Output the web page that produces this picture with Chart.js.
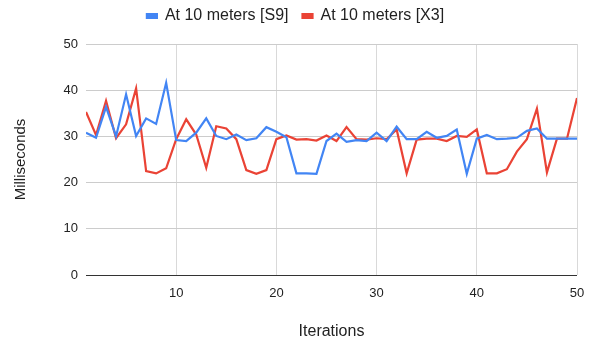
<!DOCTYPE html>
<html>
<head>
<meta charset="utf-8">
<script src="https://cdn.jsdelivr.net/npm/chart.js@4"></script>
<style>
  html, body { margin: 0; padding: 0; background: #fff; }
  #wrap { width: 598px; height: 345px; }
</style>
</head>
<body>
<div id="wrap"><canvas id="myChart" width="598" height="345"></canvas></div>
<script>
const iterations = [1, 2, 3, 4, 5, 6, 7, 8, 9, 10,
    11, 12, 13, 14, 15, 16, 17, 18, 19, 20,
    21, 22, 23, 24, 25, 26, 27, 28, 29, 30,
    31, 32, 33, 34, 35, 36, 37, 38, 39, 40,
    41, 42, 43, 44, 45, 46, 47, 48, 49, 50];

const s9Values = [30.8, 29.7, 36.4, 30.0, 39.1, 30.1, 33.9, 32.7, 41.6, 29.2,
    29.0, 30.8, 33.9, 30.1, 29.4, 30.4, 29.2, 29.6, 32.0, 31.0,
    29.8, 22.0, 22.0, 21.9, 29.0, 30.6, 28.8, 29.2, 29.0, 30.8,
    29.0, 32.1, 29.4, 29.4, 31.0, 29.7, 30.1, 31.5, 21.9, 29.5,
    30.3, 29.4, 29.5, 29.7, 31.2, 31.7, 29.5, 29.5, 29.5, 29.5];

const x3Values = [35.3, 30.3, 37.7, 29.6, 32.6, 40.4, 22.5, 22.0, 23.1, 29.4,
    33.7, 30.4, 23.2, 32.2, 31.7, 29.4, 22.7, 21.9, 22.7, 29.4,
    30.2, 29.3, 29.4, 29.1, 30.2, 29.0, 32.0, 29.4, 29.3, 29.6,
    29.4, 31.5, 22.0, 29.3, 29.5, 29.5, 29.0, 30.1, 29.9, 31.5,
    22.0, 22.0, 22.9, 26.7, 29.4, 36.0, 22.2, 29.5, 29.5, 38.3];

const xTicks = [10, 20, 30, 40, 50];
const yTicks = [0, 10, 20, 30, 40, 50];

const font = "Arial, 'Liberation Sans', sans-serif";
Chart.defaults.font.family = font;
Chart.defaults.color = '#222';

function toPoints(values) {
    return iterations.map((x, i) => ({ x, y: values[i] }));
}

// taller legend box so the plot starts lower; nudge the legend a bit to the right
const legendSpacer = {
    id: 'legendSpacer',
    beforeInit(chart) {
        const legend = chart.legend;
        const origFit = legend.fit;
        legend.fit = function () {
            origFit.call(this);
            this.height += 10;
        };
    },
    afterLayout(chart) {
        chart.legend.left += 7;
        chart.legend.right += 7;
    }
};

const ctx = document.getElementById('myChart').getContext('2d');
window.myChart = new Chart(ctx, {
    type: 'line',
    data: {
        datasets: [
            {
                label: 'At 10 meters [S9]',
                data: toPoints(s9Values),
                borderColor: '#4285F4',
                backgroundColor: '#4285F4',
                borderWidth: 2.2,
                pointRadius: 0,
                tension: 0
            },
            {
                label: 'At 10 meters [X3]',
                data: toPoints(x3Values),
                borderColor: '#EA4335',
                backgroundColor: '#EA4335',
                borderWidth: 2.2,
                pointRadius: 0,
                tension: 0
            }
        ]
    },
    plugins: [legendSpacer],
    options: {
        responsive: false,
        animation: false,
        layout: { padding: { left: 0, right: 21, top: -6, bottom: 0 } },
        plugins: {
            legend: {
                position: 'top',
                labels: {
                    boxWidth: 10,
                    boxHeight: 4,
                    padding: 14,
                    font: { size: 16 },
                    color: '#222'
                }
            },
            tooltip: { enabled: false }
        },
        scales: {
            x: {
                type: 'linear',
                min: 1,
                max: 50,
                afterBuildTicks: axis => { axis.ticks = xTicks.map(v => ({ value: v })); },
                afterFit: axis => { axis.height = 70; },
                grid: { color: '#d9d9d9', drawTicks: false },
                border: { display: false },
                ticks: { padding: 11, font: { size: 13 }, maxRotation: 0 },
                title: {
                    display: true,
                    text: 'Iterations',
                    font: { size: 16 },
                    padding: { top: 20 }
                }
            },
            y: {
                min: 0,
                max: 50,
                afterBuildTicks: axis => { axis.ticks = yTicks.map(v => ({ value: v })); },
                afterFit: axis => { axis.width = 86; },
                grid: {
                    color: c => c.tick && c.tick.value === 0 ? '#333' : '#cccccc',
                    drawTicks: false
                },
                border: { display: false },
                ticks: { padding: 8, font: { size: 13 } },
                title: {
                    display: true,
                    text: 'Milliseconds',
                    font: { size: 15 },
                    padding: { top: 12, bottom: 4 }
                }
            }
        }
    }
});
</script>
</body>
</html>
